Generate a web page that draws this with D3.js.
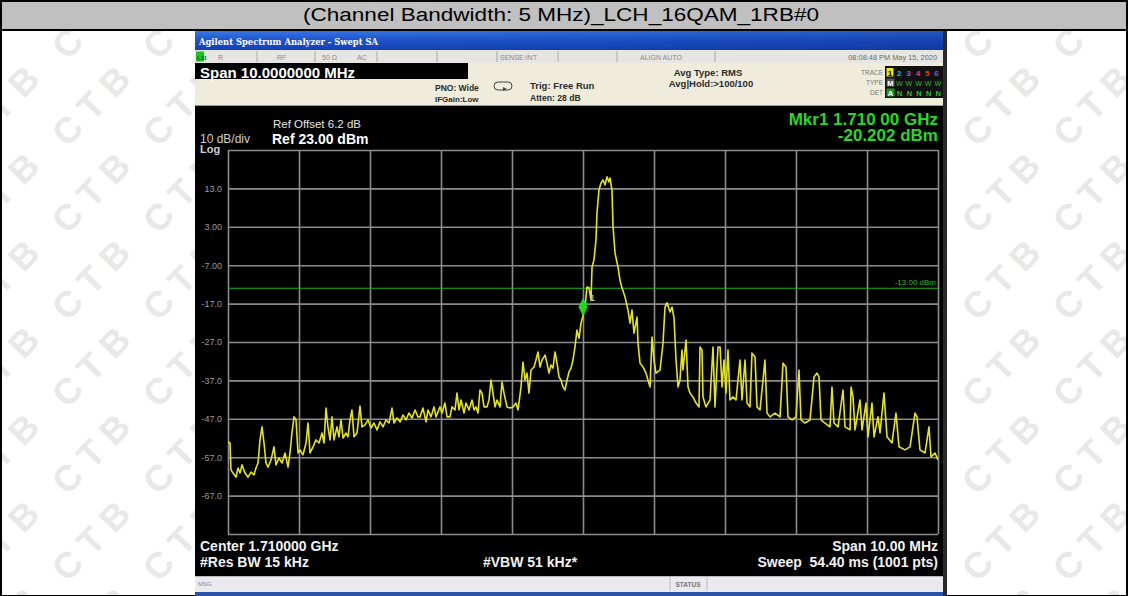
<!DOCTYPE html>
<html>
<head>
<meta charset="utf-8">
<script src="https://cdn.jsdelivr.net/npm/d3@7"></script>
<style>
  html, body { margin: 0; padding: 0; background: #fff; overflow: hidden; }
  svg { display: block; }
</style>
</head>
<body>
<svg id="chart" width="1128" height="596"></svg>
<script>
// ---- chart text ----
const pageTitle = "(Channel Bandwidth: 5 MHz)_LCH_16QAM_1RB#0";
const watermarkText = "CTB";

// ---- sweep settings ----
const centerMHz = 1710;
const spanMHz = 10;
const refLevelDbm = 23;
const dbPerDiv = 10;
const displayLineDbm = -13;
const markerMHz = 1710.000;
const markerDbm = -20.202;

// ---- graticule ----
const xGridMHz = [1705, 1706, 1707, 1708, 1709, 1710, 1711, 1712, 1713, 1714, 1715];
const yGridDbm = [23, 13, 3, -7, -17, -27, -37, -47, -57, -67, -77];
const yTickLabels = ["", "13.0", "3.00", "-7.00", "-17.0", "-27.0", "-37.0", "-47.0", "-57.0", "-67.0", ""];

// ---- trace 1 (RMS average), frequency in MHz ----
const traceFreqMHz = [
1705.000,1705.028,1705.042,1705.070,1705.113,1705.141,1705.169,1705.197,1705.239,1705.282,
1705.324,1705.366,1705.394,1705.423,1705.451,1705.479,1705.507,1705.535,1705.563,1705.606,
1705.648,1705.676,1705.718,1705.761,1705.803,1705.845,1705.873,1705.901,1705.930,1705.958,
1705.986,1706.014,1706.056,1706.099,1706.127,1706.155,1706.197,1706.239,1706.282,1706.324,
1706.352,1706.380,1706.408,1706.437,1706.465,1706.493,1706.535,1706.563,1706.592,1706.620,
1706.662,1706.690,1706.718,1706.746,1706.775,1706.817,1706.859,1706.887,1706.930,1706.972,
1707.014,1707.056,1707.099,1707.141,1707.183,1707.225,1707.268,1707.310,1707.338,1707.380,
1707.423,1707.465,1707.507,1707.549,1707.592,1707.634,1707.676,1707.704,1707.746,1707.789,
1707.817,1707.859,1707.901,1707.930,1707.986,1708.014,1708.056,1708.085,1708.127,1708.155,
1708.197,1708.225,1708.254,1708.282,1708.324,1708.352,1708.394,1708.437,1708.465,1708.493,
1708.521,1708.549,1708.577,1708.606,1708.648,1708.676,1708.704,1708.732,1708.761,1708.789,
1708.831,1708.859,1708.887,1708.930,1708.972,1709.014,1709.056,1709.085,1709.127,1709.155,
1709.183,1709.211,1709.239,1709.268,1709.310,1709.338,1709.366,1709.394,1709.423,1709.465,
1709.493,1709.521,1709.549,1709.577,1709.606,1709.634,1709.662,1709.690,1709.718,1709.746,
1709.775,1709.803,1709.831,1709.859,1709.887,1709.915,1709.944,1709.972,1710.000,1710.028,
1710.056,1710.085,1710.113,1710.127,1710.155,1710.183,1710.197,1710.225,1710.254,1710.282,
1710.310,1710.338,1710.366,1710.380,1710.408,1710.423,1710.451,1710.493,1710.521,1710.549,
1710.592,1710.634,1710.662,1710.690,1710.718,1710.761,1710.775,1710.803,1710.845,1710.887,
1710.915,1710.944,1710.972,1711.000,1711.028,1711.085,1711.127,1711.155,1711.183,1711.225,
1711.254,1711.282,1711.310,1711.338,1711.366,1711.394,1711.408,1711.451,1711.479,1711.507,
1711.549,1711.592,1711.634,1711.648,1711.676,1711.690,1711.732,1711.789,1711.831,1711.859,
1711.901,1711.930,1711.958,1711.986,1712.014,1712.042,1712.070,1712.113,1712.155,1712.211,
1712.239,1712.282,1712.310,1712.352,1712.380,1712.423,1712.451,1712.493,1712.563,1712.592,
1712.634,1712.704,1712.775,1712.817,1712.859,1712.887,1712.944,1713.000,1713.042,1713.070,
1713.127,1713.197,1713.254,1713.296,1713.324,1713.352,1713.408,1713.479,1713.507,1713.535,
1713.592,1713.662,1713.690,1713.761,1713.775,1713.803,1713.831,1713.901,1713.930,1713.986,
1714.014,1714.070,1714.099,1714.155,1714.183,1714.239,1714.282,1714.352,1714.408,1714.451,
1714.535,1714.606,1714.676,1714.704,1714.746,1714.817,1714.873,1714.901,1714.958,1715.000
];
const traceLevelDbm = [
-53.0,-53.3,-60.3,-61.1,-62.2,-59.8,-61.1,-59.0,-61.1,-62.2,
-60.9,-61.6,-59.8,-58.5,-52.5,-49.1,-53.3,-58.5,-59.6,-57.7,
-54.3,-59.0,-57.2,-58.5,-55.9,-59.6,-55.9,-50.7,-46.5,-47.3,
-55.9,-55.1,-56.4,-53.3,-48.1,-55.9,-54.3,-52.5,-53.3,-50.7,
-53.3,-44.2,-49.1,-52.5,-46.5,-52.5,-49.1,-51.7,-47.3,-52.0,
-50.7,-51.7,-47.3,-44.7,-51.7,-50.7,-43.7,-49.1,-48.6,-47.3,
-49.4,-48.1,-49.9,-47.8,-49.1,-47.3,-48.1,-44.2,-48.1,-46.8,
-47.8,-46.0,-47.3,-45.5,-46.8,-44.7,-46.5,-46.5,-44.2,-47.8,
-44.7,-46.5,-43.9,-46.5,-43.9,-45.5,-42.9,-46.5,-46.5,-43.9,
-44.7,-40.3,-44.7,-42.1,-45.5,-42.9,-44.7,-42.1,-44.7,-43.9,
-45.5,-39.5,-40.3,-43.9,-43.9,-42.1,-36.9,-40.3,-43.9,-42.1,
-43.9,-37.4,-40.3,-43.9,-44.2,-43.9,-42.9,-44.7,-38.7,-32.2,
-36.9,-35.1,-40.3,-34.3,-33.5,-31.7,-29.6,-33.5,-31.7,-30.4,
-32.5,-35.1,-33.0,-33.8,-29.6,-32.5,-36.1,-36.9,-38.7,-39.5,
-36.9,-34.8,-33.8,-31.7,-28.3,-23.9,-26.0,-22.1,-20.202,-17.9,
-12.7,-12.9,-16.1,-7.5,-5.6,-0.4,6.6,12.6,14.4,15.2,
13.9,16.0,14.7,15.7,12.6,3.0,-3.8,-7.5,-10.9,-12.9,
-15.3,-18.7,-22.1,-18.7,-24.7,-20.5,-27.3,-32.5,-33.5,-35.1,
-36.9,-38.7,-25.7,-31.7,-35.1,-34.3,-27.3,-17.9,-16.8,-19.2,
-17.9,-20.8,-31.7,-38.7,-36.9,-29.1,-34.3,-26.5,-38.7,-40.3,
-41.3,-42.9,-43.9,-28.3,-29.1,-41.3,-43.9,-42.1,-28.3,-43.9,
-28.3,-28.3,-38.7,-31.7,-40.3,-29.1,-42.1,-41.3,-42.1,-31.7,
-42.1,-31.7,-42.9,-43.9,-29.9,-30.9,-43.9,-44.7,-31.7,-45.5,
-46.5,-45.5,-46.5,-32.5,-33.5,-46.5,-47.3,-46.5,-34.3,-47.3,
-48.1,-47.3,-36.1,-35.1,-36.1,-47.3,-48.1,-49.1,-38.7,-48.1,
-49.1,-39.5,-49.1,-49.9,-38.7,-41.3,-49.9,-42.1,-49.9,-42.9,
-51.7,-42.9,-51.7,-46.5,-50.7,-40.3,-51.7,-53.3,-45.5,-54.3,
-55.1,-54.3,-45.5,-46.5,-55.1,-55.9,-49.1,-56.9,-55.9,-57.7
];

// ---- page layout ----
const W = 1128, H = 596;
const svg = d3.select("#chart");
const SANS = "'Liberation Sans', Arial, sans-serif";
const defs = svg.append("defs");

// Page background + watermark tiles
svg.append("rect").attr("width", W).attr("height", H).attr("fill", "#fff");
defs.append("clipPath").attr("id", "bodyClip")
  .append("rect").attr("x", 2).attr("y", 31).attr("width", W - 4).attr("height", H - 31);
const wm = svg.append("g").attr("clip-path", "url(#bodyClip)");
for (let row = 0; row < 8; row++) {
  for (let col = -1; col < 13; col++) {
    wm.append("text")
      .attr("transform", `translate(${67 + 91 * col},${43 + 87 * row}) rotate(-46)`)
      .attr("x", -13).attr("dy", "0.36em")
      .attr("font-family", SANS).attr("font-weight", "bold").attr("font-size", 36)
      .attr("letter-spacing", 10).attr("fill", "#e8e8e8")
      .text(watermarkText);
  }
}

// Title row of the table
svg.append("rect").attr("x", 0).attr("y", 0).attr("width", W).attr("height", 30).attr("fill", "#c0c0c0");
svg.append("text").attr("x", 303).attr("y", 20.5)
  .attr("textLength", 516).attr("lengthAdjust", "spacingAndGlyphs")
  .attr("font-family", SANS).attr("font-size", 18).attr("fill", "#000").text(pageTitle);
// table borders
const border = svg.append("g").attr("stroke", "#000").attr("fill", "none");
border.append("rect").attr("x", 1).attr("y", 1).attr("width", W - 2).attr("height", H - 1).attr("stroke-width", 2);
border.append("line").attr("x1", 0).attr("x2", W).attr("y1", 30).attr("y2", 30).attr("stroke-width", 2);

// ---- analyzer window ----
const AX0 = 195, AX1 = 945, AW = AX1 - AX0;
const win = svg.append("g");

const grad = defs.append("linearGradient").attr("id", "titleGrad").attr("x1", 0).attr("x2", 0).attr("y1", 0).attr("y2", 1);
grad.append("stop").attr("offset", "0%").attr("stop-color", "#3a78e6");
grad.append("stop").attr("offset", "45%").attr("stop-color", "#1f56cf");
grad.append("stop").attr("offset", "100%").attr("stop-color", "#123fae");
const gradH = defs.append("linearGradient").attr("id", "titleGradH").attr("x1", 0).attr("x2", 1).attr("y1", 0).attr("y2", 0);
gradH.append("stop").attr("offset", "0%").attr("stop-color", "#1a4cc4").attr("stop-opacity", 0);
gradH.append("stop").attr("offset", "100%").attr("stop-color", "#0c2f8f").attr("stop-opacity", 0.45);

win.append("rect").attr("x", AX0).attr("y", 31).attr("width", AW + 2).attr("height", 565).attr("fill", "#000");
win.append("rect").attr("x", AX0).attr("y", 31).attr("width", AW).attr("height", 19).attr("fill", "url(#titleGrad)");
win.append("rect").attr("x", AX0).attr("y", 31).attr("width", AW).attr("height", 19).attr("fill", "url(#titleGradH)");
win.append("text").attr("x", AX0 + 4).attr("y", 44.5)
  .attr("font-family", "'DejaVu Serif', serif").attr("font-weight", "bold").attr("font-size", 8.4)
  .attr("fill", "#fff").text("Agilent Spectrum Analyzer - Swept SA");

// status strip
win.append("rect").attr("x", AX0).attr("y", 50).attr("width", AW).attr("height", 13).attr("fill", "#e6e5e1");
[257, 315, 377, 437, 497, 558, 617, 715].forEach(x =>
  win.append("line").attr("x1", x).attr("x2", x).attr("y1", 51).attr("y2", 62).attr("stroke", "#aaa"));
win.append("rect").attr("x", AX0 + 1).attr("y", 51.5).attr("width", 8).attr("height", 10).attr("fill", "#1fbf1f");
win.append("text").attr("x", AX0 + 2).attr("y", 59.5).attr("font-family", SANS).attr("font-size", 6).attr("font-weight", "bold").attr("fill", "#063").text("LXI");
const statusText = [[218, "R"], [277, "RF"], [322, "50 Ω"], [357, "AC"], [500, "SENSE:INT"], [640, "ALIGN AUTO"]];
statusText.forEach(([x, t]) => win.append("text").attr("x", x).attr("y", 59.5)
  .attr("font-family", SANS).attr("font-size", 7).attr("fill", "#8a8a8a").text(t));
win.append("text").attr("x", 937).attr("y", 59.5).attr("text-anchor", "end")
  .attr("font-family", SANS).attr("font-size", 7.4).attr("fill", "#6a6a6a").text("08:08:48 PM May 15, 2020");

// settings panel
win.append("rect").attr("x", AX0).attr("y", 63).attr("width", AW).attr("height", 43).attr("fill", "#efecdb");
win.append("line").attr("x1", AX0).attr("x2", AX1).attr("y1", 105.5).attr("y2", 105.5).attr("stroke", "#9c9a8c");
win.append("rect").attr("x", AX0).attr("y", 63).attr("width", 273).attr("height", 16).attr("fill", "#000");
win.append("text").attr("x", AX0 + 5).attr("y", 77.5)
  .attr("font-family", SANS).attr("font-weight", "bold").attr("font-size", 15).attr("fill", "#fff")
  .text("Span 10.0000000 MHz");

const panelText = [
  [435, 91, 8.5, "PNO: Wide"], [435, 102, 8, "IFGain:Low"],
  [530, 89, 9.5, "Trig: Free Run"], [530, 101, 8.6, "Atten: 28 dB"]
];
panelText.forEach(([x, y, s, t]) => win.append("text").attr("x", x).attr("y", y)
  .attr("font-family", SANS).attr("font-weight", "bold").attr("font-size", s).attr("fill", "#2b2b2b").text(t));
win.append("text").attr("x", 708).attr("y", 75.5).attr("text-anchor", "middle")
  .attr("font-family", SANS).attr("font-weight", "bold").attr("font-size", 9.5).attr("fill", "#2b2b2b").text("Avg Type: RMS");
win.append("text").attr("x", 711).attr("y", 87).attr("text-anchor", "middle")
  .attr("font-family", SANS).attr("font-weight", "bold").attr("font-size", 9.5).attr("fill", "#2b2b2b").text("Avg|Hold:>100/100");
// free-run loop icon
win.append("rect").attr("x", 494).attr("y", 82).attr("width", 18).attr("height", 8).attr("rx", 4)
  .attr("fill", "none").attr("stroke", "#444").attr("stroke-width", 1);
win.append("path").attr("d", "M503,87 l4,2 l-4,2 z").attr("fill", "#444");

// trace / type / detector block
[["TRACE", 72], ["TYPE", 82], ["DET", 92.5]].forEach(([t, y]) =>
  win.append("text").attr("x", 883).attr("y", y + 2.5).attr("text-anchor", "end")
    .attr("font-family", SANS).attr("font-size", 6.5).attr("fill", "#777").text(t));
win.append("rect").attr("x", 885).attr("y", 66).attr("width", 58).attr("height", 32).attr("fill", "#111");
const traceColors = ["#e8e800", "#00c8e8", "#c040e0", "#e04090", "#e04020", "#6060e0"];
traceColors.forEach((c, i) => {
  if (i === 0) win.append("rect").attr("x", 886.5).attr("y", 68).attr("width", 7).attr("height", 8.5).attr("fill", c);
  win.append("text").attr("x", 890 + i * 9.3).attr("y", 75.5).attr("text-anchor", "middle")
    .attr("font-family", SANS).attr("font-weight", "bold").attr("font-size", 8)
    .attr("fill", i === 0 ? "#000" : c).text(String(i + 1));
});
win.append("rect").attr("x", 886.5).attr("y", 78.5).attr("width", 8).attr("height", 8).attr("fill", "#555");
win.append("text").attr("x", 887.3).attr("y", 85.5).attr("font-family", SANS).attr("font-weight", "bold").attr("font-size", 7.5).attr("fill", "#fff").text("M");
win.append("text").attr("x", 896).attr("y", 85.5).attr("font-family", SANS).attr("font-size", 7).attr("fill", "#2fbf2f").attr("textLength", 45).text("WWWWW");
win.append("rect").attr("x", 886.5).attr("y", 88.5).attr("width", 8).attr("height", 8).attr("fill", "#1a9a1a");
win.append("text").attr("x", 887.8).attr("y", 95.5).attr("font-family", SANS).attr("font-weight", "bold").attr("font-size", 7.5).attr("fill", "#fff").text("A");
win.append("text").attr("x", 897).attr("y", 95.5).attr("font-family", SANS).attr("font-weight", "bold").attr("font-size", 7.5).attr("fill", "#2fbf2f").attr("textLength", 44).text("NNNNN");

// ---- measurement display ----
const plotL = 228, plotR = 938, plotT = 150, plotB = 534;
const x = d3.scaleLinear().domain([centerMHz - spanMHz / 2, centerMHz + spanMHz / 2]).range([plotL, plotR]);
const y = d3.scaleLinear().domain([refLevelDbm - 10 * dbPerDiv, refLevelDbm]).range([plotB, plotT]);

const disp = svg.append("g");
disp.append("text").attr("x", 273).attr("y", 127.5).attr("font-family", SANS).attr("font-size", 11.5).attr("fill", "#e6e6e6").text("Ref Offset 6.2 dB");
disp.append("text").attr("x", 272).attr("y", 143.5).attr("font-family", SANS).attr("font-weight", "bold").attr("font-size", 14).attr("fill", "#fff").text(`Ref ${refLevelDbm.toFixed(2)} dBm`);
disp.append("text").attr("x", 200).attr("y", 142.5).attr("font-family", SANS).attr("font-size", 12).attr("fill", "#cfcfcf").text(`${dbPerDiv} dB/div`);
disp.append("text").attr("x", 200).attr("y", 153).attr("font-family", SANS).attr("font-size", 11).attr("font-weight", "bold").attr("fill", "#cfcfcf").text("Log");

disp.append("text").attr("x", 938).attr("y", 125).attr("text-anchor", "end").attr("font-family", SANS).attr("font-weight", "bold").attr("font-size", 17).attr("fill", "#27d827")
  .text("Mkr1 1.710 00 GHz");
disp.append("text").attr("x", 938).attr("y", 141).attr("text-anchor", "end").attr("font-family", SANS).attr("font-weight", "bold").attr("font-size", 17).attr("fill", "#27d827")
  .text(`${markerDbm.toFixed(3)} dBm`);

// graticule via axes
const gridColor = "#8c8c8c";
const yAxis = d3.axisLeft(y).tickValues(yGridDbm).tickSize(-(plotR - plotL)).tickPadding(6)
  .tickFormat((d, i) => yTickLabels[i]);
const gy = disp.append("g").attr("transform", `translate(${plotL},0)`).call(yAxis);
gy.select(".domain").remove();
gy.selectAll(".tick line").attr("stroke", gridColor).attr("stroke-width", 1.6);
gy.selectAll(".tick text").attr("font-family", SANS).attr("font-size", 9).attr("fill", "#9c9c9c");

const xAxis = d3.axisBottom(x).tickValues(xGridMHz).tickSize(-(plotB - plotT)).tickFormat("");
const gx = disp.append("g").attr("transform", `translate(0,${plotB})`).call(xAxis);
gx.select(".domain").remove();
gx.selectAll(".tick line").attr("stroke", gridColor).attr("stroke-width", 1.6);

// display line
disp.append("line").attr("x1", plotL).attr("x2", plotR)
  .attr("y1", y(displayLineDbm)).attr("y2", y(displayLineDbm))
  .attr("stroke", "#18b818").attr("stroke-width", 1.2);
disp.append("text").attr("x", plotR - 2).attr("y", y(displayLineDbm) - 3).attr("text-anchor", "end")
  .attr("font-family", SANS).attr("font-size", 8).attr("fill", "#22bb22").text(`${displayLineDbm.toFixed(2)} dBm`);

// trace
defs.append("clipPath").attr("id", "plotClip")
  .append("rect").attr("x", plotL).attr("y", plotT).attr("width", plotR - plotL).attr("height", plotB - plotT);
const trace = traceFreqMHz.map((f, i) => ({ f, v: traceLevelDbm[i] }));
const line = d3.line().x(d => x(d.f)).y(d => y(d.v));
disp.append("path").datum(trace).attr("clip-path", "url(#plotClip)")
  .attr("d", line).attr("fill", "none").attr("stroke", "#e4e41e").attr("stroke-width", 1.6)
  .attr("stroke-linejoin", "round");

// marker 1
const mx = x(markerMHz), my = y(markerDbm);
disp.append("path").attr("d", `M${mx},${my} l-4.5,-9 l4.5,-9 l4.5,9 z`).attr("fill", "#14e014");
disp.append("text").attr("x", mx + 7).attr("y", my - 15).attr("font-family", SANS).attr("font-size", 9)
  .attr("fill", "#e8e8b0").text("1");

// bottom annotations
const bottom = [
  [200, 551, "start", "Center 1.710000 GHz"],
  [200, 567, "start", "#Res BW 15 kHz"],
  [483, 567, "start", "#VBW 51 kHz*"],
  [938, 551, "end", "Span 10.00 MHz"],
  [938, 567, "end", "Sweep  54.40 ms (1001 pts)"]
];
bottom.forEach(([tx, ty, a, t]) => disp.append("text").attr("x", tx).attr("y", ty).attr("text-anchor", a)
  .attr("font-family", SANS).attr("font-weight", "bold").attr("font-size", 14).attr("fill", "#f2f2f2")
  .attr("xml:space", "preserve").style("white-space", "pre").text(t));

// message / status bar
win.append("rect").attr("x", AX0).attr("y", 576).attr("width", AW).attr("height", 16).attr("fill", "#e9e9ee");
win.append("line").attr("x1", AX0).attr("x2", AX1).attr("y1", 576.5).attr("y2", 576.5).attr("stroke", "#bbb");
[670, 707].forEach(xx => win.append("line").attr("x1", xx).attr("x2", xx).attr("y1", 577).attr("y2", 591).attr("stroke", "#bbb"));
win.append("text").attr("x", 198).attr("y", 586).attr("font-family", SANS).attr("font-size", 6).attr("fill", "#888").text("MSG");
win.append("text").attr("x", 688).attr("y", 586.5).attr("text-anchor", "middle").attr("font-family", SANS).attr("font-size", 6.5).attr("font-weight", "bold").attr("fill", "#777").text("STATUS");
win.append("rect").attr("x", AX0).attr("y", 592).attr("width", AW).attr("height", 4).attr("fill", "#2a52a8");
// right frame edge of the window
win.append("rect").attr("x", AX1 - 2).attr("y", 31).attr("width", 4).attr("height", 565).attr("fill", "#2b2b2b");
</script>
</body>
</html>
